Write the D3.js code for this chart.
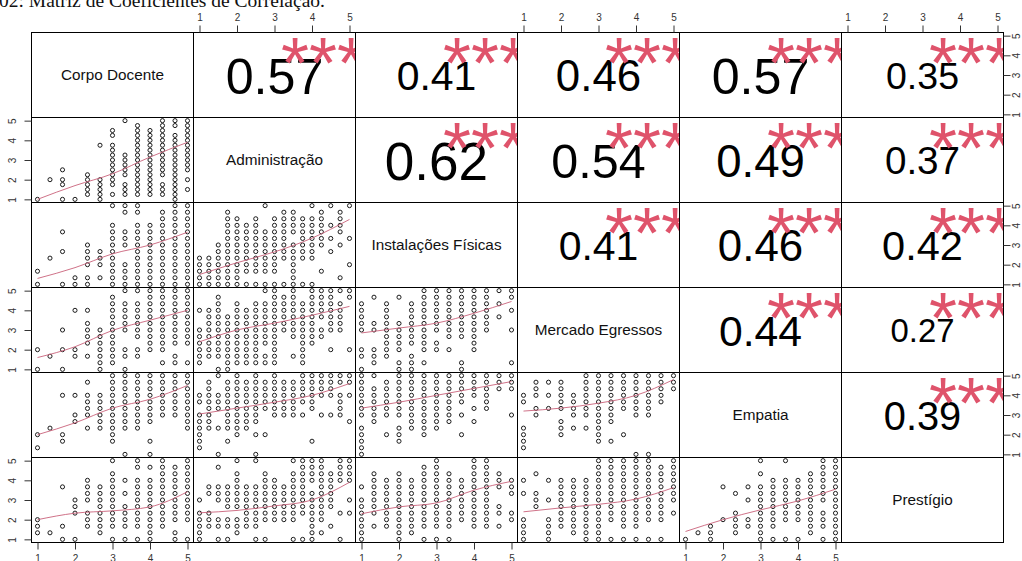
<!DOCTYPE html>
<html>
<head>
<meta charset="utf-8">
<script src="https://cdn.jsdelivr.net/npm/d3@7"></script>
<style>
  body { margin: 0; background: #fff; }
  svg { display: block; font-family: "Liberation Sans", Arial, sans-serif; }
</style>
</head>
<body>
<svg id="chart" width="1022" height="561"></svg>
<script>
// ---- variables and answer levels -------------------------------------------
const variables = ["Corpo Docente", "Administração", "Instalações Físicas",
                   "Mercado Egressos", "Empatia", "Prestígio"];
// scale means: three-item scales move in thirds, the four-item scale in quarters
const thirds = [1, 1.333, 1.667, 2, 2.333, 2.667, 3, 3.333, 3.667, 4, 4.333, 4.667, 5];
const quarters = [1, 1.25, 1.5, 1.75, 2, 2.25, 2.5, 2.75, 3, 3.25, 3.5, 3.75, 4,
                  4.25, 4.5, 4.75, 5];
const levels = [thirds, quarters, thirds, thirds, thirds, thirds];
const tickValues = [1, 2, 3, 4, 5];
const tickLabels = ["1", "2", "3", "4", "5"];
const axisDomain = [0.84, 5.16];

// ---- correlation coefficients (upper triangle) -----------------------------
const corValues = [
  [null, 0.57, 0.41, 0.46, 0.57, 0.35],
  [null, null, 0.62, 0.54, 0.49, 0.37],
  [null, null, null, 0.41, 0.46, 0.42],
  [null, null, null, null, 0.44, 0.27],
  [null, null, null, null, null, 0.39]
];
const corSignif = [
  [null, "***", "***", "***", "***", "***"],
  [null, null, "***", "***", "***", "***"],
  [null, null, null, "***", "***", "***"],
  [null, null, null, null, "***", "***"],
  [null, null, null, null, null, "***"]
];

// ---- scatter points of the lower panels -------------------------------------
// one string per x level (left to right); each character is the index of a
// y level present at that x (base 17: 0-9, a-g)
const pts_r2c1 = ["0", "4", "0346", "0", "12345", "01234b", "13456789abde", "12356789g",
  "123456789abcdef", "123456789abcde", "12356789abcdefg", "0123456789abcdfg", "246789abcdefg"];
const pts_r3c1 = ["02", "4", "058", "01", "013456", "1345", "0123456789c", "0123678bc",
  "0123456789bc", "0123456789", "0123456789ab", "0123456789abc", "0123456789abc"];
const pts_r4c1 = ["03", "2", "036", "239", "245679", "0123456", "123456789ab", "0236789ac",
  "2356789ac", "3456789abc", "13456789abc", "12456789abc", "1456789abc"];
const pts_r5c1 = ["13", "4", "239", "569", "46789b", "456789", "23456789abc", "0456789abc",
  "456789abc", "0256789abc", "6789abc", "6789abc", "456789abc"];
const pts_r6c1 = ["123", "1", "028", "0456", "2346789", "12345678", "023456789ac", "0234579",
  "023456789bc", "0123456789b", "23456789abc", "013456789ab", "03456789abc"];
const pts_r3c2 = ["01234", "01234", "0123456", "0123456789ab", "0123456789a", "023456789",
  "023456789a", "02345678c", "023456789a", "0456789ab", "012345689ab", "0456789a",
  "0456789ac", "26789ab", "579c", "1689ab", "37c"];
const pts_r4c2 = ["1234569", "23456789", "023456789ab", "012345678", "123456789a", "123456789",
  "123456789a", "12456789ac", "123456789abc", "6789ab", "256789abc", "123456789a",
  "456789abc", "5689abc", "36789abc", "6789ac", "3bc"];
const pts_r5c2 = ["12345689", "456789ab", "04789c", "2456789ab", "3456789abc", "456789ab",
  "0356789abc", "3789ab", "6789abc", "6789ab", "6789ab", "689abc", "2789abc", "69abc",
  "69abc", "6789bc", "59bc"];
const pts_r6c2 = ["012346", "23478", "023678b", "0235678", "12356789ac", "2345678",
  "02345678c", "03456789a", "3456789", "345678", "03456789ac", "0456789abc",
  "012345679abc", "13456789abc", "256789a", "049abc", "469abc"];
const pts_r4c3 = ["0236789a", "12367b", "23456789a", "0134567b", "012456789a", "13456789abc",
  "346789abc", "356789abc", "0156789abc", "3456789abc", "6789abc", "8ac", "169bc"];
const pts_r5c3 = ["012346789abc", "56789ac", "36789ab", "2346789abc", "456789abc", "3456789abc",
  "456789abc", "56789abc", "3689abc", "579abc", "789abc", "abc", "6abc"];
const pts_r6c3 = ["01234568", "2456789a", "23456789", "0123456789a", "123456789", "023456789ab",
  "023456789abc", "023456789a", "3456789", "23456789abc", "23456789abc", "24589a", "34789"];
const pts_r5c4 = ["123489", "679ab", "79b", "345789ab", "46789", "46789abc", "23456789abc",
  "256789abc", "3789abc", "06789abc", "06789abc", "89abc", "abc"];
const pts_r6c4 = ["012379", "567a", "012369", "23456789", "123456789", "0123456789",
  "0123456789abc", "03456789abc", "023456789abc", "023456789abc", "03456789abc",
  "03456789ab", "46789abc"];
const pts_r6c5 = ["0", "1", "012", "38", "12347", "2368", "012345678ac", "023456789",
  "03456789c", "03456789", "123456789a", "02346789abc", "0123456789abc"];

// ---- smoothed trend (y at x = 1..5) -----------------------------------------
const smoothX = [1, 2, 3, 4, 5];
const smooth_r2c1 = [1.0, 1.7, 2.3, 3.15, 3.9];
const smooth_r3c1 = [1.3, 1.85, 2.55, 3.0, 3.65];
const smooth_r4c1 = [1.6, 2.15, 2.98, 3.5, 4.0];
const smooth_r5c1 = [2.0, 2.6, 3.35, 3.8, 4.5];
const smooth_r6c1 = [2.0, 2.33, 2.45, 2.65, 3.42];
const smooth_r3c2 = [1.5, 2.1, 2.65, 3.35, 4.3];
const smooth_r4c2 = [2.4, 3.0, 3.35, 3.75, 4.2];
const smooth_r5c2 = [3.05, 3.35, 3.65, 4.0, 4.6];
const smooth_r6c2 = [2.35, 2.47, 2.7, 3.0, 3.9];
const smooth_r4c3 = [2.85, 3.1, 3.35, 3.85, 4.45];
const smooth_r5c3 = [3.35, 3.65, 4.0, 4.35, 4.7];
const smooth_r6c3 = [2.3, 2.65, 2.85, 3.5, 3.95];
const smooth_r5c4 = [3.2, 3.35, 3.6, 4.0, 4.8];
const smooth_r6c4 = [2.4, 2.6, 2.78, 3.05, 3.63];
const smooth_r6c5 = [1.4, 2.0, 2.5, 2.95, 3.55];

const lowerPanels = [
  { row: 1, col: 0, pts: pts_r2c1, smooth: smooth_r2c1 },
  { row: 2, col: 0, pts: pts_r3c1, smooth: smooth_r3c1 },
  { row: 3, col: 0, pts: pts_r4c1, smooth: smooth_r4c1 },
  { row: 4, col: 0, pts: pts_r5c1, smooth: smooth_r5c1 },
  { row: 5, col: 0, pts: pts_r6c1, smooth: smooth_r6c1 },
  { row: 2, col: 1, pts: pts_r3c2, smooth: smooth_r3c2 },
  { row: 3, col: 1, pts: pts_r4c2, smooth: smooth_r4c2 },
  { row: 4, col: 1, pts: pts_r5c2, smooth: smooth_r5c2 },
  { row: 5, col: 1, pts: pts_r6c2, smooth: smooth_r6c2 },
  { row: 3, col: 2, pts: pts_r4c3, smooth: smooth_r4c3 },
  { row: 4, col: 2, pts: pts_r5c3, smooth: smooth_r5c3 },
  { row: 5, col: 2, pts: pts_r6c3, smooth: smooth_r6c3 },
  { row: 4, col: 3, pts: pts_r5c4, smooth: smooth_r5c4 },
  { row: 5, col: 3, pts: pts_r6c4, smooth: smooth_r6c4 },
  { row: 5, col: 4, pts: pts_r6c5, smooth: smooth_r6c5 }
];

// ---- layout ----------------------------------------------------------------
const svg = d3.select("#chart");
const gridLeft = 31.5, gridTop = 32.5, cw = 162, ch = 85, n = variables.length;
const starColor = "#DF536B";
const smoothColor = "#c9627a";
const textBase = 75;            // base text size: stars use it directly
const starSize = 72;
const xScale = c => d3.scaleLinear().domain(axisDomain).range([gridLeft + c * cw, gridLeft + (c + 1) * cw]);
const yScale = r => d3.scaleLinear().domain(axisDomain).range([gridTop + (r + 1) * ch, gridTop + r * ch]);

// caption line at the top edge
svg.append("text")
  .attr("x", -1).attr("y", 7)
  .attr("font-family", "'Liberation Serif', 'Times New Roman', serif")
  .attr("font-size", 19.5)
  .attr("fill", "#111")
  .text("02: Matriz de Coeficientes de Correlação.");

// clip regions, one per cell
const defs = svg.append("defs");
for (let r = 0; r < n; r++) {
  for (let c = 0; c < n; c++) {
    defs.append("clipPath").attr("id", `clip-${r}-${c}`)
      .append("rect")
      .attr("x", gridLeft + c * cw).attr("y", gridTop + r * ch)
      .attr("width", cw).attr("height", ch);
  }
}

// lower panels: scatter + smooth
lowerPanels.forEach(p => {
  const xs = xScale(p.col), ys = yScale(p.row);
  const g = svg.append("g").attr("clip-path", `url(#clip-${p.row}-${p.col})`);
  const data = [];
  p.pts.forEach((s, i) => {
    for (const k of s) data.push([levels[p.col][i], levels[p.row][parseInt(k, 17)]]);
  });
  g.selectAll("circle").data(data).join("circle")
    .attr("cx", d => xs(d[0])).attr("cy", d => ys(d[1]))
    .attr("r", 2.05)
    .attr("fill", "none").attr("stroke", "#111").attr("stroke-width", 0.95);
  g.append("path")
    .datum(smoothX.map((x, i) => [x, p.smooth[i]]))
    .attr("d", d3.line().x(d => xs(d[0])).y(d => ys(d[1])).curve(d3.curveMonotoneX))
    .attr("fill", "none").attr("stroke", smoothColor).attr("stroke-width", 0.9);
});

// upper panels: coefficient and stars
for (let r = 0; r < n; r++) {
  for (let c = r + 1; c < n; c++) {
    const v = corValues[r][c];
    const x0 = gridLeft + c * cw, y0 = gridTop + r * ch;
    const g = svg.append("g").attr("clip-path", `url(#clip-${r}-${c})`);
    const fs = textBase * (v + 0.3) / 1.3;
    g.append("text")
      .attr("x", x0 + cw / 2).attr("y", y0 + ch / 2 + 0.37 * fs)
      .attr("text-anchor", "middle")
      .attr("font-size", fs).attr("fill", "#000")
      .text(d3.format(".2f")(v));
    g.append("text")
      .attr("x", x0 + 0.8 * cw).attr("y", y0 + 0.2 * ch - 3 + 0.575 * starSize)
      .attr("text-anchor", "middle")
      .attr("font-size", starSize).attr("fill", starColor)
      .text(corSignif[r][c]);
  }
}

// diagonal: variable names
variables.forEach((name, i) => {
  svg.append("text")
    .attr("x", gridLeft + i * cw + cw / 2).attr("y", gridTop + i * ch + ch / 2 + 5)
    .attr("text-anchor", "middle")
    .attr("font-size", 15.3).attr("fill", "#111")
    .text(name);
});

// cell borders
for (let r = 0; r < n; r++) {
  for (let c = 0; c < n; c++) {
    svg.append("rect")
      .attr("x", gridLeft + c * cw).attr("y", gridTop + r * ch)
      .attr("width", cw).attr("height", ch)
      .attr("fill", "none").attr("stroke", "#000").attr("stroke-width", 1);
  }
}

// axes alternate around the matrix
function styleAxis(g) {
  g.select(".domain").remove();
  g.selectAll(".tick line").attr("stroke", "#333");
  g.selectAll(".tick text").attr("fill", "#333").attr("font-size", 10)
    .attr("font-family", "'Liberation Sans', Arial, sans-serif");
}
const tickLen = 7;
for (let c = 0; c < n; c++) {
  const xs = xScale(c);
  if (c % 2 === 1) {
    svg.append("g").attr("transform", `translate(0,${gridTop})`)
      .call(d3.axisTop(xs).tickValues(tickValues).tickFormat((d, i) => tickLabels[i])
        .tickSize(tickLen).tickPadding(5))
      .call(styleAxis);
  } else {
    svg.append("g").attr("transform", `translate(0,${gridTop + n * ch})`)
      .call(d3.axisBottom(xs).tickValues(tickValues).tickFormat((d, i) => tickLabels[i])
        .tickSize(tickLen).tickPadding(5))
      .call(styleAxis);
  }
}
for (let r = 0; r < n; r++) {
  const ys = yScale(r);
  if (r % 2 === 1) {
    const g = svg.append("g").attr("transform", `translate(${gridLeft},0)`)
      .call(d3.axisLeft(ys).tickValues(tickValues).tickFormat((d, i) => tickLabels[i])
        .tickSize(tickLen))
      .call(styleAxis);
    g.selectAll(".tick text")
      .attr("x", null).attr("dy", null)
      .attr("text-anchor", "middle")
      .attr("transform", "translate(-16,0) rotate(-90)");
  } else {
    const g = svg.append("g").attr("transform", `translate(${gridLeft + n * cw},0)`)
      .call(d3.axisRight(ys).tickValues(tickValues).tickFormat((d, i) => tickLabels[i])
        .tickSize(tickLen))
      .call(styleAxis);
    g.selectAll(".tick text")
      .attr("x", null).attr("dy", null)
      .attr("text-anchor", "middle")
      .attr("transform", "translate(16.5,0) rotate(-90)");
  }
}
</script>
</body>
</html>
